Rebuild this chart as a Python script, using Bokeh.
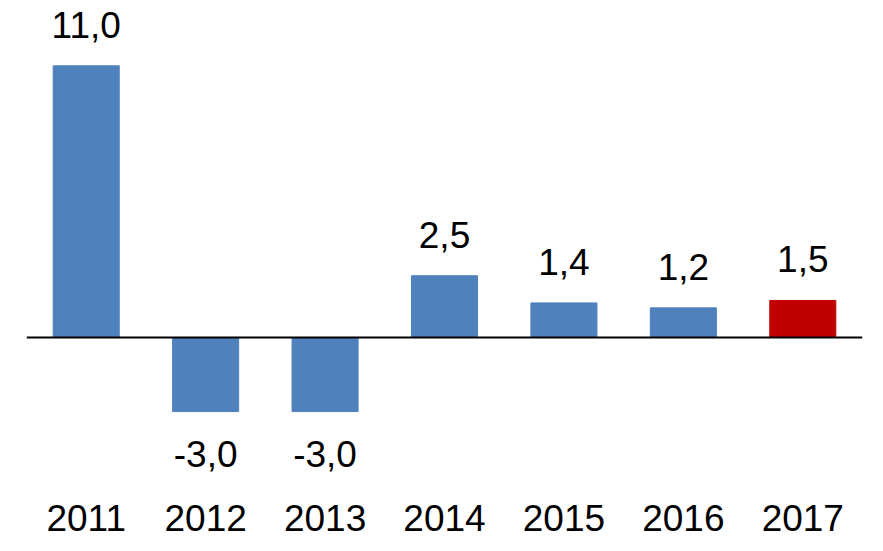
from bokeh.plotting import figure
from bokeh.models import ColumnDataSource, Span, FactorRange
from bokeh.core.properties import value
from bokeh.embed import file_html
from bokeh.resources import INLINE

years = ["2011", "2012", "2013", "2014", "2015", "2016", "2017"]
values = [11.0, -3.0, -3.0, 2.5, 1.4, 1.2, 1.5]
colors = ["#4F81BD"] * 6 + ["#C00000"]

labels = [f"{v:.1f}".replace(".", ",") for v in values]
offsets = [-41 if v >= 0 else 42 for v in values]

src = ColumnDataSource(dict(x=years, top=values, color=colors, label=labels, off=offsets))

p = figure(x_range=FactorRange(*years, range_padding=0), y_range=(-5.79, 13.32),
           width=875, height=543, output_backend="svg", toolbar_location=None,
           min_border_left=26, min_border_right=13, min_border_top=8, min_border_bottom=63)
p.vbar(x="x", top="top", bottom=0, width=0.553, color="color", source=src)
p.text(x="x", y="top", text="label", y_offset="off", source=src,
       text_align="center", text_baseline="alphabetic",
       text_font=value("Liberation Sans"), text_font_size="37px", text_color="black")
p.add_layout(Span(location=0, dimension="width", line_color="black", line_width=2))

p.yaxis.visible = False
p.xgrid.visible = False
p.ygrid.visible = False
p.outline_line_color = None
p.xaxis.axis_line_color = None
p.xaxis.major_tick_line_color = None
p.xaxis.minor_tick_line_color = None
p.xaxis.major_label_text_font = "Liberation Sans"
p.xaxis.major_label_text_font_size = "37px"
p.xaxis.major_label_text_color = "black"
p.xaxis.major_label_standoff = 18

open("out.html", "w").write(file_html(p, INLINE))
